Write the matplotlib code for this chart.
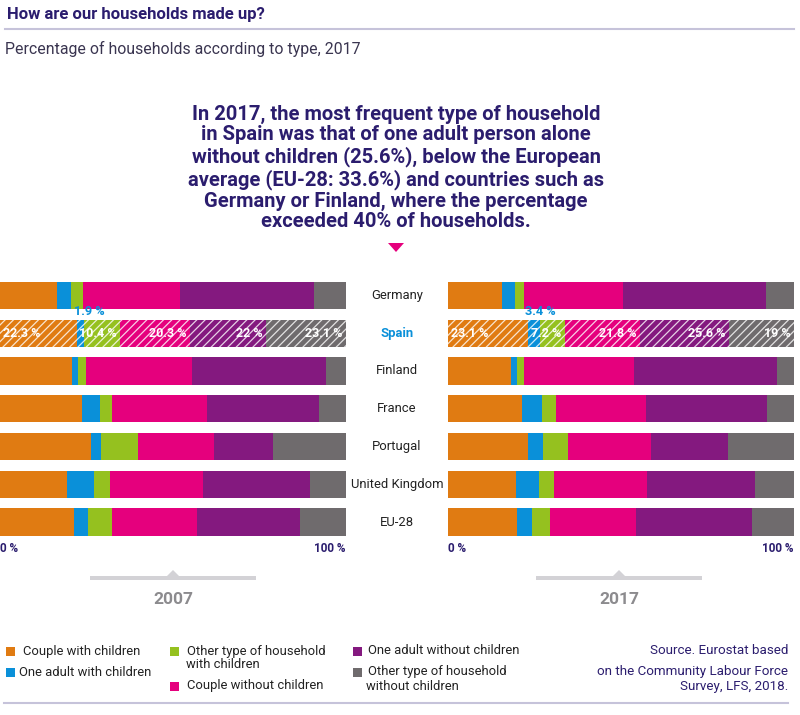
import matplotlib
matplotlib.use('Agg')
from matplotlib import pyplot as plt
from matplotlib.patches import Polygon, Rectangle

# data
countries = ['Germany', 'Spain', 'Finland', 'France', 'Portugal', 'United Kingdom', 'EU-28']
types = ['Couple with children', 'One adult with children', 'Other type of household\nwith children',
         'Couple without children', 'One adult without children', 'Other type of household\nwithout children']

couple_kids_2007 = [16.5, 22.3, 20.8, 23.7, 26.2, 19.5, 21.4]
adult_kids_2007 = [3.9, 1.9, 1.8, 5.1, 2.9, 7.6, 4.1]
other_kids_2007 = [3.5, 10.4, 2.3, 3.6, 10.7, 4.8, 6.9]
couple_nokids_2007 = [28.1, 20.3, 30.6, 27.5, 22.0, 26.8, 24.4]
adult_nokids_2007 = [38.8, 22.0, 38.7, 32.4, 17.2, 30.8, 29.9]
other_nokids_2007 = [9.2, 23.1, 5.8, 7.7, 21.0, 10.5, 13.3]

couple_kids_2017 = [15.7, 23.1, 18.1, 21.3, 23.1, 19.6, 20.0]
adult_kids_2017 = [3.6, 3.4, 1.9, 6.0, 4.5, 6.6, 4.4]
other_kids_2017 = [2.8, 7.2, 1.9, 3.8, 7.2, 4.4, 5.0]
couple_nokids_2017 = [28.5, 21.8, 31.8, 26.1, 24.0, 27.0, 24.9]
adult_nokids_2017 = [41.2, 25.6, 41.3, 35.0, 22.2, 31.1, 33.6]
other_nokids_2017 = [8.2, 19.0, 5.0, 7.8, 19.0, 11.3, 12.1]

years = ['2007', '2017']

colors = ['#E07B12', '#0A90D9', '#95C11F', '#E5007D', '#84197F', '#6F6B6D']
navy = '#2B1D6E'
rule = '#C6C3DA'

plt.rcParams['font.family'] = 'Roboto'
plt.rcParams['hatch.linewidth'] = 0.9

W, H = 800, 715
fig = plt.figure(figsize=(W / 100, H / 100), dpi=100)

# overlay in pixel coordinates for the text and decorations
bg = fig.add_axes([0, 0, 1, 1])
bg.set_xlim(0, W)
bg.set_ylim(H, 0)
bg.axis('off')

bg.text(7, 15, 'How are our households made up?', fontsize=12, fontweight='bold', color=navy, va='center')
bg.plot([5, 794], [29, 29], color=rule, lw=1.5)
bg.text(5, 49, 'Percentage of households according to type, 2017', fontsize=11.4, color='#3A3550', va='center')

headline = ('In 2017, the most frequent type of household\n'
            'in Spain was that of one adult person alone\n'
            'without children (25.6%), below the European\n'
            'average (EU-28: 33.6%) and countries such as\n'
            'Germany or Finland, where the percentage\n'
            'exceeded 40% of households.')
bg.text(396, 168, headline, fontsize=14.5, fontweight='bold', color=navy, ha='center', va='center',
        linespacing=1.12)
bg.add_patch(Polygon([[388, 243], [404, 243], [396, 252]], closed=True, color='#E5007D', lw=0))

bar_x = [(0, 346), (448, 794)]
year_cx = [173, 619]
top, bottom = 276.6, 540.9
series = [
    [couple_kids_2007, adult_kids_2007, other_kids_2007, couple_nokids_2007, adult_nokids_2007, other_nokids_2007],
    [couple_kids_2017, adult_kids_2017, other_kids_2017, couple_nokids_2017, adult_nokids_2017, other_nokids_2017],
]

s = countries.index('Spain')
for k, (x0, x1) in enumerate(bar_x):
    ax = fig.add_axes([x0 / W, 1 - bottom / H, (x1 - x0) / W, (bottom - top) / H])
    ax.set_xlim(0, 100)
    ax.set_ylim(len(countries) - 0.5, -0.5)
    ax.axis('off')
    left = [0.0] * len(countries)
    for j, vals in enumerate(series[k]):
        bars = ax.barh(range(len(countries)), vals, left=left, height=0.72, color=colors[j], linewidth=0)
        bars[s].set_hatch('////')
        bars[s].set_edgecolor((1, 1, 1, 0.8))
        v = vals[s]
        lbl = f'{v:g} %'
        if j == 0:
            ax.text(left[s] + 1.0, s, lbl, color='white', fontsize=9, fontweight='bold', va='center', ha='left')
        elif j == 1:
            ax.text(left[s] - 0.8, s - 0.4, lbl, color=colors[1], fontsize=9.2, fontweight='bold',
                    va='bottom', ha='left')
        else:
            ax.text(left[s] + v - 1.0, s, lbl, color='white', fontsize=9, fontweight='bold', va='center',
                    ha='right')
        left = [a + b for a, b in zip(left, vals)]

    bg.text(x0, 548, '0 %', fontsize=8.5, fontweight='bold', color=navy, ha='left', va='center')
    bg.text(x1, 548, '100 %', fontsize=8.5, fontweight='bold', color=navy, ha='right', va='center')

    cx = year_cx[k]
    bg.add_patch(Rectangle((cx - 83, 575.5), 166, 4.5, color='#D3D2D6', lw=0))
    bg.add_patch(Polygon([[cx - 6, 576], [cx + 6, 576], [cx, 570]], closed=True, color='#D3D2D6', lw=0))
    bg.text(cx, 600, years[k], fontsize=12.5, fontweight='bold', color='#8C8B8E', ha='center', va='center')

row_y = [295.5 + 37.75 * i for i in range(len(countries))]
for c, y in zip(countries, row_y):
    sp = c == 'Spain'
    bg.text(397, y, c, fontsize=9.4, ha='center', va='center', color=colors[1] if sp else '#222222',
            fontweight='bold' if sp else 'normal')

# legend
leg = [(6, 651, 23), (6, 672, 19), (170, 651, 187), (170, 686, 187), (353, 651, 368), (353, 672, 368)]
for j, (lx, ly, tx) in enumerate(leg):
    bg.add_patch(Rectangle((lx, ly - 4.5), 9, 9, color=colors[j], lw=0))
    lines = types[j].split('\n')
    bg.text(tx, ly, lines[0], fontsize=9.4, color='#222222', va='center')
    if len(lines) > 1:
        bg.text(tx - 1.5, ly + 14, lines[1], fontsize=9.4, color='#222222', va='center')

source = ['Source. Eurostat based', 'on the Community Labour Force', 'Survey, LFS, 2018.']
for line, y in zip(source, [651, 671.5, 686.5]):
    bg.text(788, y, line, fontsize=9.6, color=navy, ha='right', va='center')
bg.plot([4, 788], [703, 703], color=rule, lw=1.5)

fig.savefig('out.png', dpi=100)
